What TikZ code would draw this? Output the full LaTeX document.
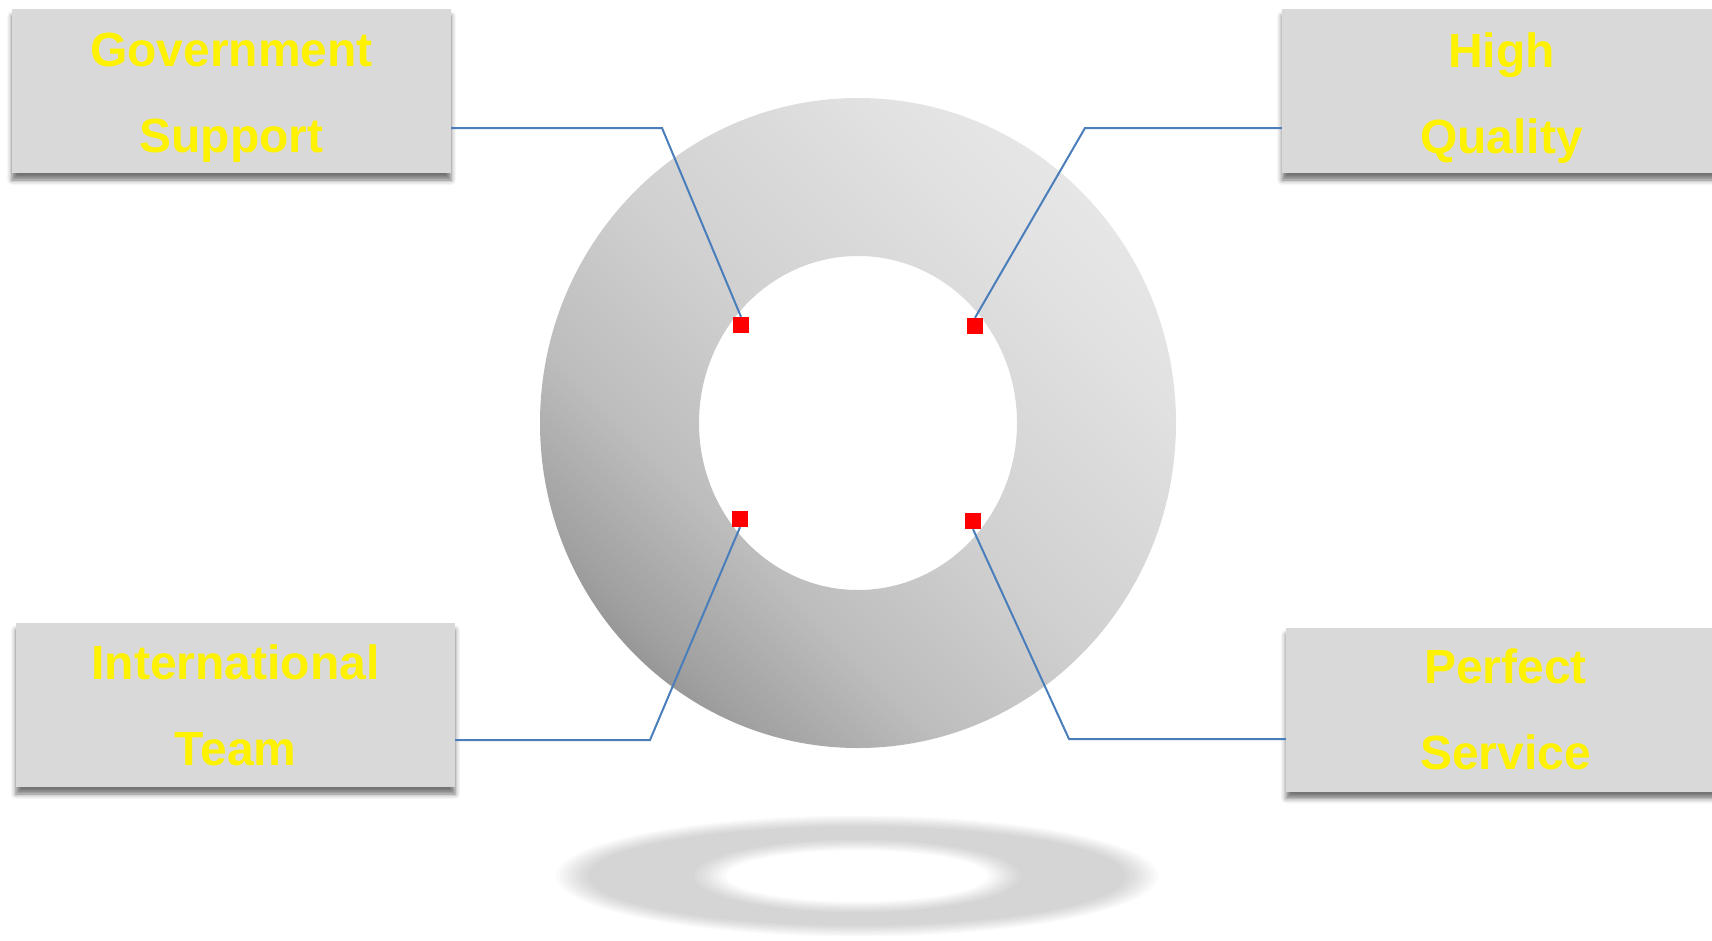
\documentclass[tikz,border=0pt]{standalone}
\usepackage{fontspec}
\setmainfont{Liberation Sans}
\usetikzlibrary{shadows.blur}
\definecolor{linkblue}{HTML}{4A7EBB}
\definecolor{boxgray}{HTML}{D9D9D9}
\definecolor{ringA}{HTML}{989898}
\definecolor{ringB}{HTML}{A0A0A0}
\definecolor{ringC}{HTML}{BDBDBD}
\definecolor{ringD}{HTML}{D0D0D0}
\definecolor{ringE}{HTML}{DCDCDC}
\definecolor{ringF}{HTML}{E2E2E2}
\definecolor{ringG}{HTML}{E6E6E6}
\pgfdeclarehorizontalshading{ringshade}{100bp}{color(0bp)=(ringA);
  color(25bp)=(ringA); color(27bp)=(ringB); color(37bp)=(ringC);
  color(50bp)=(ringD); color(63bp)=(ringE); color(69bp)=(ringF);
  color(75bp)=(ringG); color(100bp)=(ringG)}
\tikzset{%
  box/.style = {rectangle,fill=boxgray,minimum width=439pt,
        minimum height=164pt,
        blur shadow={shadow xshift=0pt,shadow yshift=-7pt,
        shadow blur radius=5pt,shadow opacity=55}},
  lbl/.style = {text=yellow,align=center,inner sep=0pt,
        font=\fontsize{48}{86}\selectfont\bfseries},
  dot/.style = {rectangle,fill=red,minimum size=16pt,inner sep=0pt},
  link/.style = {draw=linkblue,line width=2pt}
}

\begin{document}
\begin{tikzpicture}[x=1pt,y=-1pt]
\useasboundingbox (0,0) rectangle (1712,940);
% soft shadow under the ring
\foreach \d in {-16,-12,...,16}
  \fill[black,fill opacity=0.018,even odd rule]
    (857,876) ellipse ({285+\d} and {55+\d/3})
    (857,876) ellipse ({147-\d} and {31-\d/3});
% ring
\shade[even odd rule,shading=ringshade,shading angle=45]
  (858,423) ellipse (318 and 325) (858,423) ellipse (159 and 167);

\node[box,label={[lbl,yshift=-7pt]center:{Government\\Support}}] (gov) at (231.5,91) {};
\node[box,label={[lbl,yshift=-7pt]center:{High\\Quality}}] (hq) at (1501.5,91) {};
\node[box,label={[lbl]center:{International\\Team}}] (intl) at (235.5,705) {};
\node[box,label={[lbl]center:{Perfect\\Service}}] (ps) at (1505.5,709.5) {};

\node[dot] (dtl) at (741,325) {};
\node[dot] (dtr) at (975,326) {};
\node[dot] (dbl) at (740,519) {};
\node[dot] (dbr) at (973,521) {};

\coordinate (kgov) at (662,128);
\coordinate (khq) at (1085,128);
\coordinate (kintl) at (650,740);
\coordinate (kps) at (1069,739);

\draw[link] (gov.east |- kgov) -- (kgov) -- (dtl.north);
\draw[link] (hq.west |- khq) -- (khq) -- (dtr.north);
\draw[link] (intl.east |- kintl) -- (kintl) -- (dbl.south);
\draw[link] (ps.west |- kps) -- (kps) -- (dbr.south);
\end{tikzpicture}
\end{document}
